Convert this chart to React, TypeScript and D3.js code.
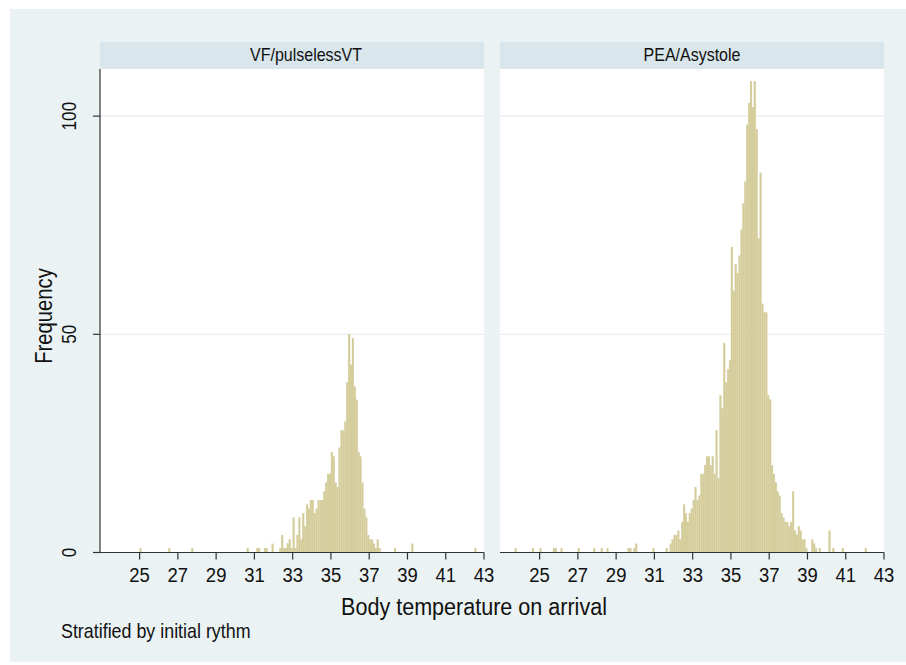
import React from 'react';
import * as d3 from 'd3';

// histogram, bin width 0.1 °C, only non-empty bins listed
const binWidth = 0.1;

const panelTitles = ['VF/pulselessVT', 'PEA/Asystole'];
const xTicks = [25, 27, 29, 31, 33, 35, 37, 39, 41, 43];
const yTicks = [0, 50, 100];
const gridTicks = [50, 100];

const vfBins = [
  25.0, 26.5, 27.7, 30.6, 31.1, 31.2, 31.5, 31.6, 31.9, 32.3, 32.4, 32.5, 32.6, 32.7, 32.8, 32.9,
  33.0, 33.1, 33.2, 33.3, 33.4, 33.5, 33.6, 33.7, 33.8, 33.9, 34.0, 34.1, 34.2, 34.3, 34.4, 34.5,
  34.6, 34.7, 34.8, 34.9, 35.0, 35.1, 35.2, 35.3, 35.4, 35.5, 35.6, 35.7, 35.8, 35.9, 36.0, 36.1,
  36.2, 36.3, 36.4, 36.5, 36.6, 36.7, 36.8, 36.9, 37.0, 37.1, 37.2, 37.3, 37.4, 37.5, 38.3, 39.2,
  42.5,
];
const vfCounts = [
  1, 1, 1, 1, 1, 1, 1, 1, 2, 1, 4, 1, 1, 2, 3, 1,
  8, 1, 4, 8, 3, 9, 6, 11, 10, 12, 12, 9, 10, 12, 12, 12,
  14, 16, 18, 18, 23, 22, 16, 15, 24, 28, 28, 30, 39, 50, 43, 49,
  38, 35, 23, 22, 16, 10, 8, 4, 3, 3, 2, 1, 3, 1, 1, 2,
  1,
];

const peaBins = [
  23.7, 24.6, 25.0, 25.7, 25.8, 26.1, 27.0, 27.8, 28.2, 28.5, 29.6, 29.7, 29.9, 30.0, 30.9, 31.6,
  31.8, 31.9, 32.0, 32.1, 32.2, 32.3, 32.4, 32.5, 32.6, 32.7, 32.8, 32.9, 33.0, 33.1, 33.2, 33.3,
  33.4, 33.5, 33.6, 33.7, 33.8, 33.9, 34.0, 34.1, 34.2, 34.3, 34.4, 34.5, 34.6, 34.7, 34.8, 34.9,
  35.0, 35.1, 35.2, 35.3, 35.4, 35.5, 35.6, 35.7, 35.8, 35.9, 36.0, 36.1, 36.2, 36.3, 36.4, 36.5,
  36.6, 36.7, 36.8, 36.9, 37.0, 37.1, 37.2, 37.3, 37.4, 37.5, 37.6, 37.7, 37.8, 37.9, 38.0, 38.1,
  38.2, 38.3, 38.4, 38.5, 38.6, 38.7, 38.8, 38.9, 39.2, 39.3, 39.4, 39.6, 40.1, 40.3, 40.8, 42.0,
];
const peaCounts = [
  1, 1, 1, 1, 1, 1, 1, 1, 1, 1, 1, 1, 1, 2, 1, 1,
  2, 3, 4, 4, 5, 3, 7, 11, 9, 7, 9, 10, 12, 15, 12, 13,
  18, 18, 20, 22, 22, 20, 22, 18, 28, 17, 36, 33, 48, 39, 42, 44,
  70, 60, 66, 64, 68, 74, 80, 85, 98, 103, 108, 102, 108, 97, 72, 87,
  57, 55, 55, 36, 35, 20, 18, 16, 14, 13, 9, 8, 7, 7, 6, 7,
  14, 5, 4, 6, 5, 3, 3, 1, 3, 2, 1, 1, 5, 1, 1, 1,
];

const W = 906;
const H = 665;
const panelX = [100, 500];
const panelW = 384;
const stripTop = 42;
const plotTop = 69;
const plotBottom = 552.5;
const font = 'Liberation Sans, Arial, Helvetica, sans-serif';
const barColor = '#d4cd9b';
const axisColor = '#333333';
const textColor = '#111111';
const squeeze = 0.88; // the original lettering is a little narrower than Arial

const App: React.FC = () => {
  const y = d3.scaleLinear().domain([0, 110.8]).range([plotBottom, plotTop]);
  const panels = [
    { title: panelTitles[0], bins: vfBins, counts: vfCounts, titleX: 306 },
    { title: panelTitles[1], bins: peaBins, counts: peaCounts, titleX: 692 },
  ];

  return (
    <div style={{ position: 'absolute', left: 0, top: 0 }}>
      <svg width={W} height={H} style={{ display: 'block', fontFamily: font }}>
        <rect x={0} y={0} width={W} height={H} fill="#ffffff" />
        <rect x={10} y={9} width={W - 10} height={653} fill="#eaf2f3" />

        {panels.map((p, pi) => {
          const left = panelX[pi];
          const x = d3.scaleLinear().domain([22.93, 43]).range([left, left + panelW]);
          return (
            <g key={p.title}>
              <rect x={left} y={stripTop} width={panelW} height={plotTop - stripTop} fill="#d9e6eb" />
              <text
                transform={`translate(${p.titleX},61) scale(${squeeze},1)`}
                textAnchor="middle"
                fontSize={18.2}
                fill={textColor}
              >
                {p.title}
              </text>
              <rect x={left} y={plotTop} width={panelW} height={plotBottom - plotTop} fill="#ffffff" />
              {gridTicks.map((t) => (
                <line key={t} x1={left} x2={left + panelW} y1={y(t)} y2={y(t)} stroke="#e6eef1" strokeWidth={1.2} />
              ))}
              {p.bins.map((b, i) => (
                <rect
                  key={i}
                  x={x(b)}
                  width={x(b + binWidth) - x(b)}
                  y={y(p.counts[i])}
                  height={y(0) - y(p.counts[i])}
                  fill={barColor}
                  stroke={barColor}
                  strokeWidth={0.2}
                />
              ))}
              <line x1={left} x2={left + panelW} y1={plotBottom} y2={plotBottom} stroke={axisColor} strokeWidth={1.2} />
              {xTicks.map((t) => (
                <g key={t} transform={`translate(${x(t)},0)`}>
                  <line y1={plotBottom} y2={plotBottom + 7} stroke={axisColor} strokeWidth={1.2} />
                  <text
                    transform={`translate(0,582) scale(${squeeze},1)`}
                    textAnchor="middle"
                    fontSize={21}
                    fill={textColor}
                  >
                    {t}
                  </text>
                </g>
              ))}
            </g>
          );
        })}

        {/* y axis on the first panel only */}
        <line x1={panelX[0]} x2={panelX[0]} y1={plotTop} y2={plotBottom} stroke={axisColor} strokeWidth={1.2} />
        {yTicks.map((t) => (
          <g key={t}>
            <line x1={panelX[0] - 7} x2={panelX[0]} y1={y(t)} y2={y(t)} stroke={axisColor} strokeWidth={1.2} />
            <text
              transform={`translate(76,${y(t)}) rotate(-90) scale(${squeeze},1)`}
              textAnchor="middle"
              fontSize={19.5}
              fill={textColor}
            >
              {t}
            </text>
          </g>
        ))}

        <text
          transform={`translate(52,316) rotate(-90) scale(${squeeze},1)`}
          textAnchor="middle"
          fontSize={23}
          fill={textColor}
        >
          Frequency
        </text>
        <text
          transform={`translate(474,615) scale(${squeeze},1)`}
          textAnchor="middle"
          fontSize={24.5}
          fill={textColor}
        >
          Body temperature on arrival
        </text>
        <text transform={`translate(61,638) scale(${squeeze},1)`} fontSize={20.3} fill={textColor}>
          Stratified by initial rythm
        </text>
      </svg>
    </div>
  );
};

export default App;
